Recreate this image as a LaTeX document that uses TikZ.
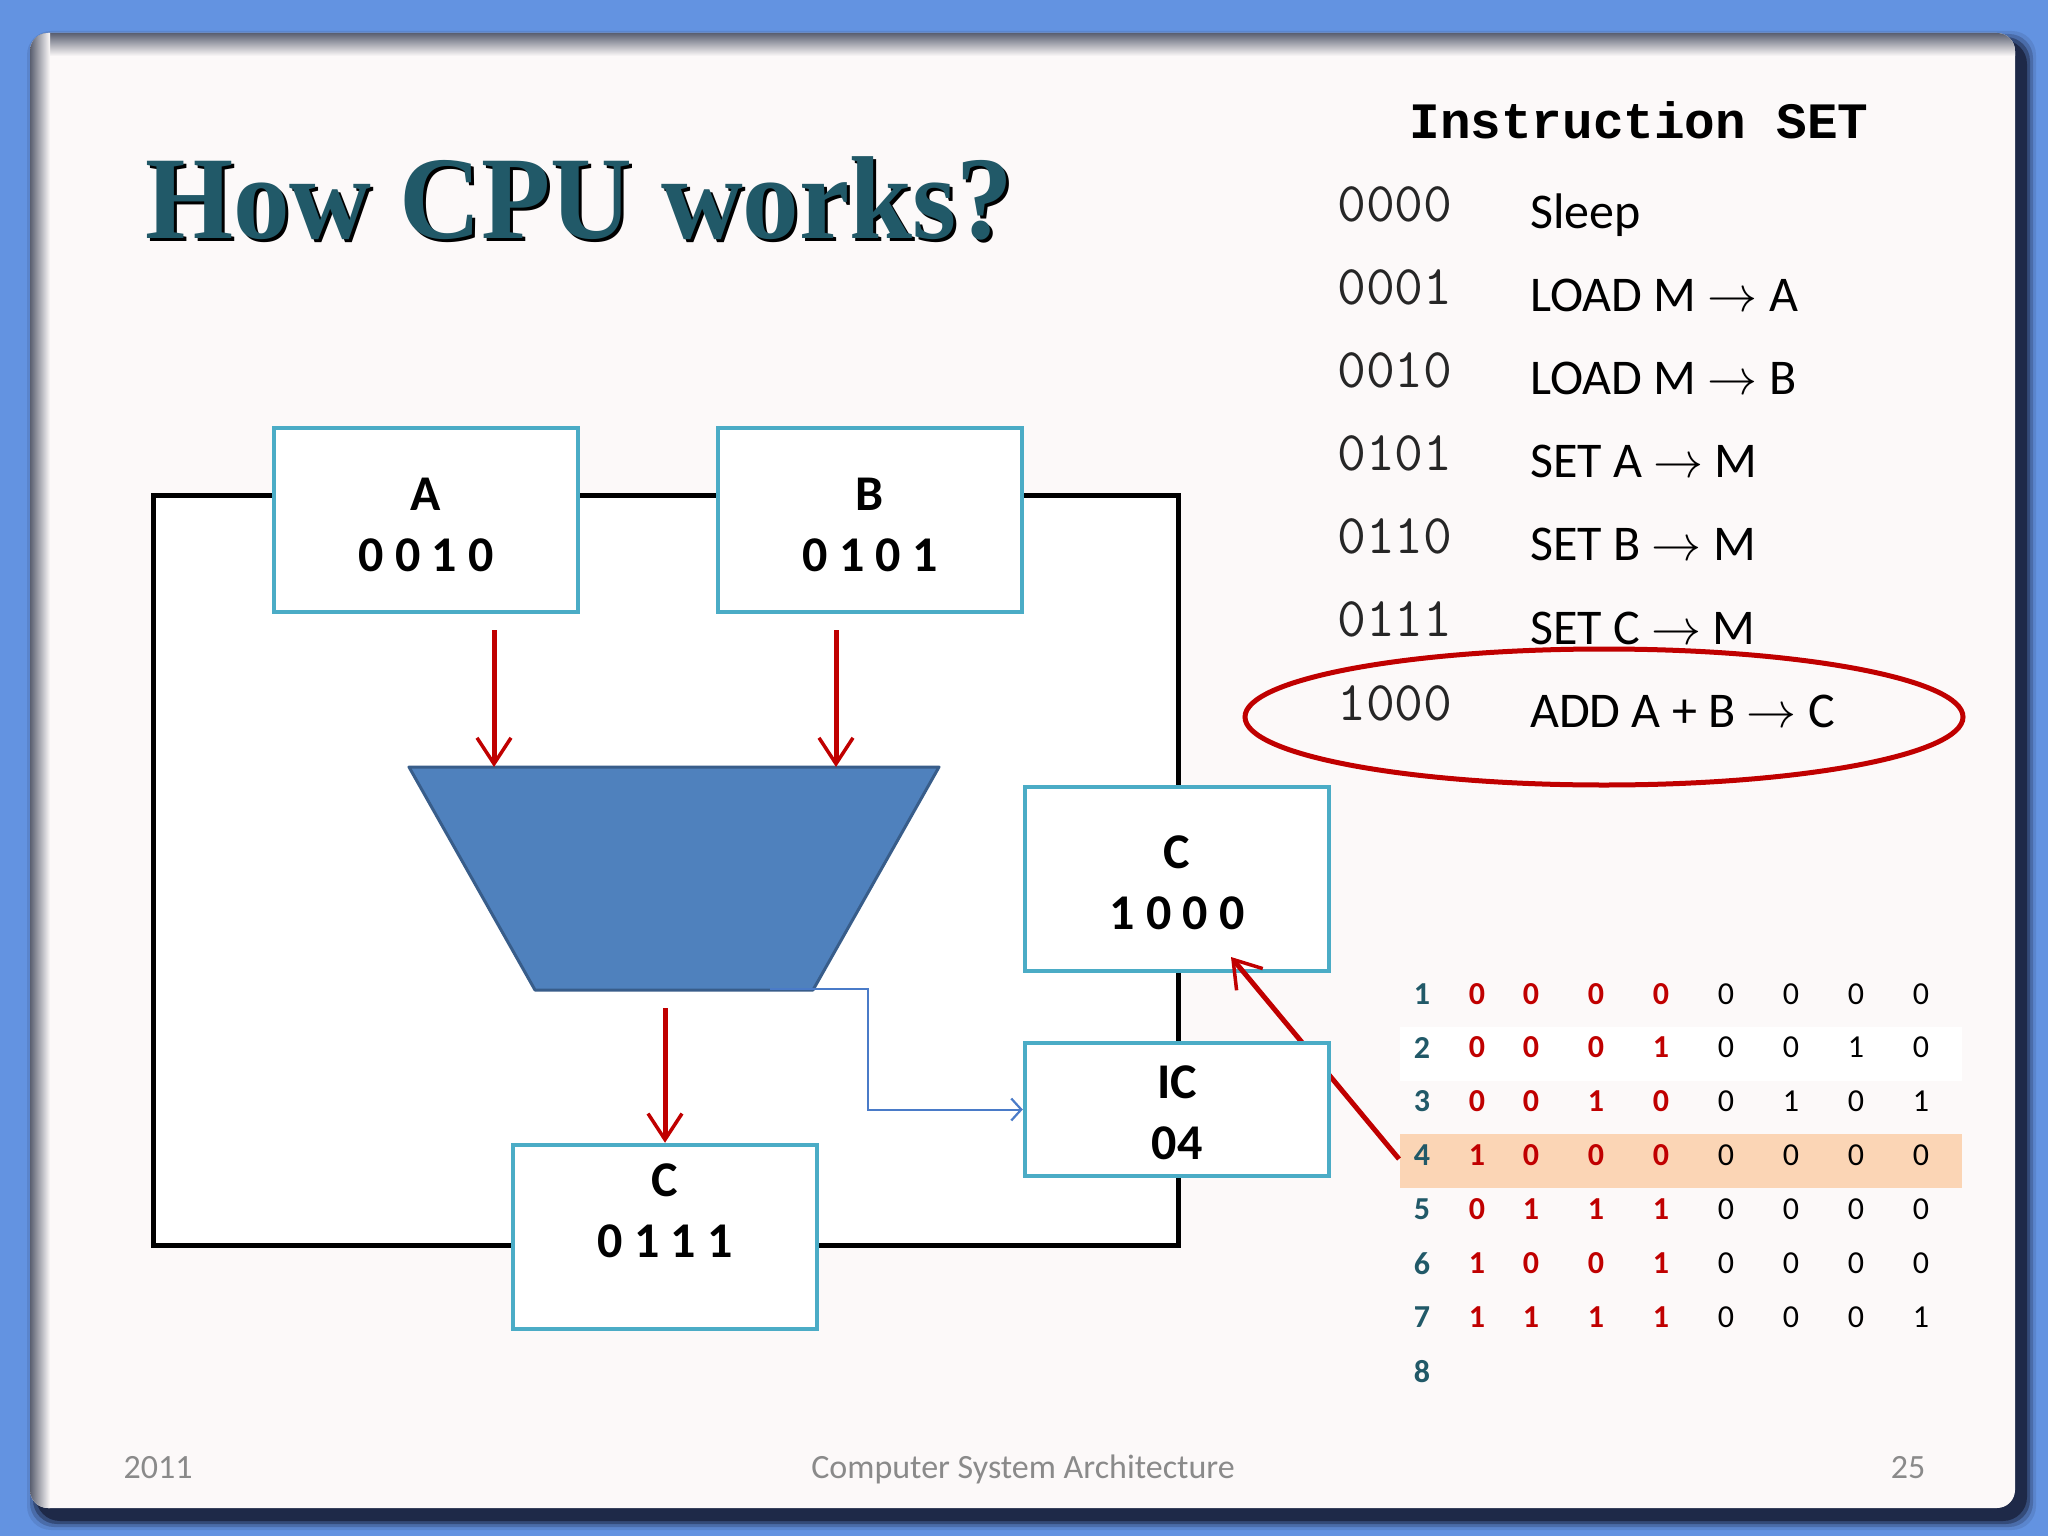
\documentclass[tikz,border=0pt]{standalone}
\usepackage{graphicx}
\usepackage{fontspec}
\setmainfont{Carlito}
\newfontfamily\titlefont[FakeStretch=0.96]{Liberation Serif}
\newfontfamily\monofont{Liberation Mono}
\usetikzlibrary{arrows.meta}
\newcommand\instarrow{\scalebox{5}{\fontsize{10}{12}\selectfont$\rightarrow$}}
\definecolor{bgblue}{HTML}{6393E1}
\definecolor{panelcol}{HTML}{FCF9F9}
\definecolor{titleteal}{HTML}{215968}
\definecolor{boxblue}{HTML}{4BACC6}
\definecolor{darkred}{HTML}{C00000}
\definecolor{alufill}{HTML}{4F81BD}
\definecolor{aluedge}{HTML}{385D8A}
\definecolor{linkblue}{HTML}{4A7BC8}
\definecolor{peach}{HTML}{FBD5B5}
\definecolor{footgray}{HTML}{8A8A8A}
\definecolor{shadowcol}{HTML}{1B2440}
\definecolor{edgegray}{HTML}{5A5F70}
\tikzset{
  reg/.style={draw=boxblue, line width=4.5pt, fill=white, minimum width=304pt, minimum height=184pt, inner sep=0pt},
  regtxt/.style={align=center, font=\fontsize{50}{61}\selectfont\bfseries, inner sep=0pt},
  redarr/.style={draw=darkred, line width=5pt, -{Straight Barb[length=26pt, width=34pt, line width=3.5pt]}},
  bluearr/.style={draw=linkblue, line width=2pt, -{Straight Barb[length=10pt, width=22pt, line width=2.2pt]}},
  codetxt/.style={anchor=base west, inner sep=0pt, font=\ttfamily\fontsize{56}{56}\selectfont, text=black!85},
  instxt/.style={anchor=base west, inner sep=0pt, font=\fontsize{50}{50}\selectfont},
  rownum/.style={inner sep=0pt, font=\fontsize{32}{32}\selectfont\bfseries, text=titleteal},
  redbit/.style={inner sep=0pt, font=\fontsize{32}{32}\selectfont\bfseries, text=darkred},
  blackbit/.style={inner sep=0pt, font=\fontsize{32}{32}\selectfont, text=black},
  foot/.style={anchor=base, inner sep=0pt, font=\fontsize{34}{34}\selectfont, text=footgray},
  titlestyle/.style={anchor=base west, inner sep=0pt, font={\titlefont\bfseries\fontsize{118}{120}\selectfont}}
}
\begin{document}
\begin{tikzpicture}[x=1pt,y=-1pt]
\useasboundingbox (0,0) rectangle (2048,1536);
% background
\fill[bgblue] (0,0) rectangle (2048,1536);
% panel shadow
\foreach \d/\op in {9/0.12, 6/0.25, 3/0.45, 0/0.85}
  \fill[shadowcol, opacity=\op, rounded corners=24pt] ({36-\d},{40-\d}) rectangle ({2027+\d},{1521+\d});
% panel
\fill[panelcol, rounded corners=18pt] (30,33) rectangle (2015,1508);
\begin{scope}
  \clip[rounded corners=18pt] (30,33) rectangle (2015,1508);
  \shade[top color=edgegray, bottom color=panelcol] (30,33) rectangle (2015,56);
  \shade[left color=edgegray, right color=panelcol] (30,33) rectangle (50,1508);
\end{scope}

% title
\node[titlestyle, text=black] (titleshadow) at (148,241) {How CPU works?};
\node[titlestyle, text=titleteal] (title) at (145,238) {How CPU works?};

% instruction set
\node[anchor=base, inner sep=0pt, font=\monofont\bfseries\fontsize{51}{51}\selectfont] (isethead) at (1639,139) {Instruction SET};
\foreach \i/\code/\ins in {0/0000/{Sleep}, 1/0001/{LOAD M \instarrow{} A}, 2/0010/{LOAD M \instarrow{} B}, 3/0101/{SET A \instarrow{} M}, 4/0110/{SET B \instarrow{} M}, 5/0111/{SET C \instarrow{} M}, 6/1000/{ADD A + B \instarrow{} C}}{
  \node[codetxt] (code\i) at (1337,{221.4+83.1*\i}) {\code};
  \node[instxt] (ins\i) at (1530,{228+83.2*\i}) {\ins};
}
\draw[darkred, line width=5pt] (1604,717) ellipse [x radius=359, y radius=68];

% table
\fill[white] (1400,1027) rectangle (1962,1081);
\fill[peach] (1400,1134) rectangle (1962,1188);
\foreach \r/\y/\a/\b/\c/\d/\e/\f/\g/\h in {1/994/0/0/0/0/0/0/0/0, 2/1047.5/0/0/0/1/0/0/1/0, 3/1101.5/0/0/1/0/0/1/0/1, 4/1155.5/1/0/0/0/0/0/0/0, 5/1209.5/0/1/1/1/0/0/0/0, 6/1263.5/1/0/0/1/0/0/0/0, 7/1317.5/1/1/1/1/0/0/0/1}{
  \node[rownum] (n\r) at (1422,\y) {\r};
  \node[redbit] (r\r c1) at (1477,\y) {\a};
  \node[redbit] (r\r c2) at (1531,\y) {\b};
  \node[redbit] (r\r c3) at (1596,\y) {\c};
  \node[redbit] (r\r c4) at (1661,\y) {\d};
  \node[blackbit] (r\r c5) at (1726,\y) {\e};
  \node[blackbit] (r\r c6) at (1791,\y) {\f};
  \node[blackbit] (r\r c7) at (1856,\y) {\g};
  \node[blackbit] (r\r c8) at (1921,\y) {\h};
}
\node[rownum] (n8) at (1422,1371.5) {8};
\coordinate (row4) at (1399,1159);

% CPU loop
\draw[black, line width=5pt, fill=white] (153,495) rectangle (1178,1245);

% registers A and B
\node[reg] (A) at (426,520) {};
\node[reg] (B) at (870,520) {};
\node[regtxt] (Atxt) at (426,525) {A\\0 0 1 0};
\node[regtxt] (Btxt) at (870,525) {B\\0 1 0 1};

% ALU
\coordinate (aluTL) at (409,767);
\coordinate (aluTR) at (939,767);
\coordinate (aluBR) at (813,990);
\coordinate (aluBL) at (535,990);
\coordinate (aluB) at (665,990);
\coordinate (aluLink) at (770,989);
\coordinate (linkBend) at (868,989);
\filldraw[fill=alufill, draw=aluedge, line width=3pt, line join=round] (aluTL) -- (aluTR) -- (aluBR) -- (aluBL) -- cycle;

\draw[redarr] ([xshift=68pt,yshift=-16pt]A.south) -- ([xshift=68pt]A.south |- aluTL);
\draw[redarr] ([xshift=-34pt,yshift=-16pt]B.south) -- ([xshift=-34pt]B.south |- aluTL);

% result C
\node[reg] (Cb) at (665,1237) {};
\node[regtxt] (Cbtxt) at (665,1211) {C\\0 1 1 1};
\draw[redarr] ([yshift=-18pt]aluB) -- (Cb.north);

% instruction register C
\node[reg] (C1) at (1177,879) {};
\node[regtxt] (C1txt) at (1177,882.5) {C\\1 0 0 0};
\draw[redarr] (row4) -- ([xshift=54pt,yshift=-78pt]C1.center);

% IC
\node[reg, minimum height=133pt] (IC) at (1177,1109.5) {};
\node[regtxt] (ICtxt) at (1177,1113) {IC\\04};
\draw[bluearr] (aluLink) -- (linkBend) |- (IC.west);

% footer
\node[foot] (year) at (158,1478) {2011};
\node[foot] (course) at (1023,1478) {Computer System Architecture};
\node[foot] (page) at (1908,1478) {25};
\end{tikzpicture}
\end{document}
